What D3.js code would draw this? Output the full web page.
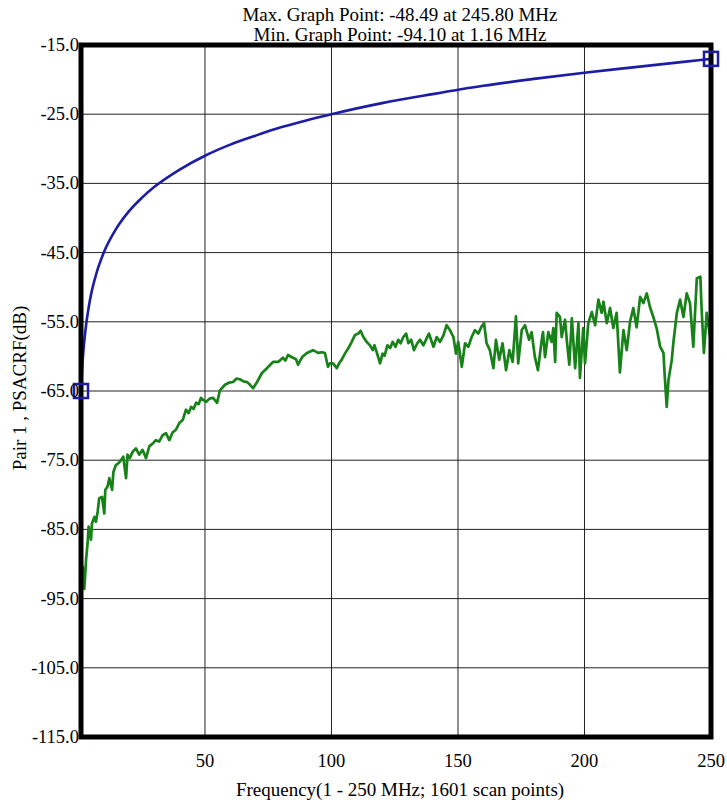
<!DOCTYPE html>
<html><head><meta charset="utf-8">
<script src="https://cdn.jsdelivr.net/npm/d3@7"></script>
<style>body{margin:0;background:#fff}svg{display:block}</style>
</head><body>
<svg id="c" width="727" height="808"></svg>
<script>
const titleLines = ["Max. Graph Point: -48.49 at 245.80 MHz", "Min. Graph Point: -94.10 at 1.16 MHz"];
const xTitle = "Frequency(1 - 250 MHz; 1601 scan points)";
const yTitle = "Pair 1 , PSACRF(dB)";
const xTicks = [50, 100, 150, 200, 250];
const yTicks = [-15, -25, -35, -45, -55, -65, -75, -85, -95, -105, -115];

const blueFreq = [1,1.5,2,3,4,5,7,10,15,20,25,30,40,50,60,70,80,90,100,120,140,160,180,200,220,240,250];
const blueDb = [-65,-61.5,-59,-55.5,-53,-51,-48.1,-45,-41.5,-39,-37.1,-35.5,-33,-31,-29.4,-28.1,-26.9,-25.9,-25,-23.4,-22.1,-20.9,-19.9,-19,-18.2,-17.4,-17.0];
const markerFreq = [1, 250];
const markerDb = [-65, -17.0];

const greenFreq = [1.0,1.16,1.67,2.3,3.0,3.6,4.0,4.95,5.35,6.3,6.9,7.6,8.2,9.3,10.2,10.6,11.5,12.2,13.3,13.8,14.8,15.9,16.8,17.7,18.8,19.4,20.3,21.4,22.7,24.0,25.3,26.7,28.0,29.3,30.6,
31.9,33.2,34.6,35.9,37.2,38.5,39.9,41.2,42.5,43.5,44.5,45.5,46.5,47.5,48.4,49.4,50.4,51.8,53.2,54.8,55.9,57.9,59.5,61.1,62.5,63.8,65.2,66.6,67.8,69.0,70.6,72.5,74.5,75.8,76.9,78.9,80.8,81.8,82.8,84.8,86.0,86.8,88.4,90.3,92.7,94.7,96.3,97.4,98.6,99.4,
100.6,102.1,103.0,104.0,105.3,106.7,108.0,109.3,110.6,111.5,112.6,113.9,115.2,116.3,117.0,117.8,119.2,120.2,121.0,122.1,123.2,124.2,125.3,126.4,127.3,128.4,129.5,130.4,131.5,132.6,133.9,135.0,136.3,137.6,138.5,140.3,141.6,142.9,144.2,145.5,146.8,148.2,149.2,150.1,151.5,152.8,154.1,155.4,156.7,158.0,159.3,160.3,161.3,162.6,164.0,165.0,166.3,167.6,169.0,170.3,171.6,172.9,173.8,175.2,176.5,178.1,
179.1,180.4,181.6,183.1,183.6,184.4,185.7,187.0,187.7,188.4,189.0,190.3,191.0,192.3,193.0,194.0,195.0,196.3,197.6,198.2,199.5,200.2,201.5,202.9,204.2,205.5,206.8,207.5,208.8,210.1,211.4,212.7,214.0,215.4,216.7,218.0,219.3,220.6,222.0,223.3,224.6,225.9,227.2,228.5,229.9,231.2,231.7,232.5,233.2,234.5,235.1,236.5,237.8,239.1,240.4,241.7,243.0,244.4,245.8,246.3,247.2,248.3,248.9,250.0];
const greenDb = [-87.0,-94.1,-90.4,-93.6,-89.4,-87.0,-84.6,-86.5,-84.1,-83.2,-83.9,-82.4,-80.5,-80.3,-82.7,-79.3,-78.8,-77.6,-79.3,-76.7,-75.7,-75.4,-75.0,-74.5,-77.6,-74.2,-74.7,-73.8,-73.3,-74.2,-73.5,-74.7,-73.0,-72.6,-72.1,
-72.3,-71.4,-71.1,-72.1,-71.0,-70.6,-69.6,-69.2,-67.7,-68.2,-67.3,-67.6,-66.7,-66.9,-66.0,-66.3,-66.6,-66.1,-66.0,-66.7,-64.9,-64.1,-63.8,-63.7,-63.2,-63.3,-63.6,-63.7,-64.1,-64.6,-63.7,-62.4,-61.7,-61.2,-60.8,-60.8,-60.2,-60.6,-59.8,-60.2,-60.4,-61.2,-60.1,-59.5,-59.1,-59.5,-59.4,-59.5,-61.5,-61.0,
-61.0,-61.7,-61.0,-60.5,-59.6,-58.8,-57.9,-56.9,-56.7,-56.3,-57.2,-57.9,-58.4,-59.1,-58.4,-59.3,-61.0,-59.6,-59.9,-58.4,-58.8,-57.9,-58.6,-57.6,-58.1,-57.2,-56.7,-58.1,-57.6,-59.1,-58.1,-57.6,-58.4,-57.4,-56.7,-58.6,-57.2,-57.9,-57.0,-55.5,-56.2,-57.2,-59.6,-57.9,-61.5,-58.1,-58.6,-57.2,-56.2,-56.7,-55.7,-55.2,-58.1,-59.1,-61.7,-57.6,-60.5,-58.1,-62.0,-59.1,-60.8,-54.2,-61.0,-56.2,-55.5,-57.6,
-56.5,-60.1,-62.0,-57.6,-56.5,-60.1,-56.5,-57.9,-55.9,-60.8,-53.7,-54.3,-57.2,-54.7,-57.6,-61.2,-54.5,-61.7,-55.2,-63.1,-55.9,-61.0,-55.2,-53.6,-55.5,-51.8,-53.7,-52.1,-55.2,-53.0,-55.9,-53.7,-62.3,-56.2,-59.1,-55.0,-53.0,-55.8,-51.4,-52.3,-50.9,-52.9,-54.3,-55.9,-58.6,-59.5,-62.7,-67.3,-63.4,-60.5,-58.1,-53.7,-51.8,-54.3,-50.9,-52.3,-58.6,-48.7,-48.49,-53.3,-59.5,-53.7,-55.2,-58.1];

const FONT = '"Liberation Serif", "Times New Roman", serif';
const svg = d3.select("#c");
const L = 81, R = 711, T = 45, B = 737;
const x = d3.scaleLinear().domain([1, 250]).range([L, R]);
const y = d3.scaleLinear().domain([-115, -15]).range([B, T]);
const fmtY = d => d3.format(".1f")(d).replace("\u2212", "-");

// grid
svg.append("g").selectAll("line").data(xTicks.filter(d => d < 250)).join("line")
  .attr("x1", d => x(d)).attr("x2", d => x(d)).attr("y1", T).attr("y2", B)
  .attr("stroke", "#222").attr("stroke-width", 1);
svg.append("g").selectAll("line").data(yTicks.filter(d => d > -115 && d < -15)).join("line")
  .attr("x1", L).attr("x2", R).attr("y1", d => y(d)).attr("y2", d => y(d))
  .attr("stroke", "#222").attr("stroke-width", 1);

// lines
const blue = blueFreq.map((f, i) => [f, blueDb[i]]);
const green = greenFreq.map((f, i) => [f, greenDb[i]]);
svg.append("path").datum(green)
  .attr("d", d3.line().x(d => x(d[0])).y(d => y(d[1])))
  .attr("fill", "none").attr("stroke", "#178217").attr("stroke-width", 2.7).attr("stroke-linejoin", "round");
svg.append("path").datum(blue)
  .attr("d", d3.line().curve(d3.curveMonotoneX).x(d => x(d[0])).y(d => y(d[1])))
  .attr("fill", "none").attr("stroke", "#1c1ca6").attr("stroke-width", 2.6);

// frame
svg.append("rect").attr("x", L).attr("y", T).attr("width", R - L).attr("height", B - T)
  .attr("fill", "none").attr("stroke", "#000").attr("stroke-width", 5);

// markers
svg.append("g").selectAll("rect").data(markerFreq.map((f, i) => [f, markerDb[i]])).join("rect")
  .attr("x", d => x(d[0]) - 7).attr("y", d => y(d[1]) - 7).attr("width", 14).attr("height", 14)
  .attr("fill", "none").attr("stroke", "#1c1ca6").attr("stroke-width", 2.5);

// tick labels
svg.append("g").selectAll("text").data(yTicks).join("text")
  .attr("x", L - 2).attr("y", d => y(d) + 6).attr("text-anchor", "end")
  .style("font-family", FONT).style("font-size", "18.5px").attr("fill", "#000")
  .text(fmtY);
svg.append("g").selectAll("text").data(xTicks).join("text")
  .attr("x", d => x(d)).attr("y", 767).attr("text-anchor", "middle")
  .style("font-family", FONT).style("font-size", "18.5px").attr("fill", "#000")
  .text(d => d);

// titles
svg.append("g").selectAll("text").data(titleLines).join("text")
  .attr("x", 400).attr("y", (d, i) => 20.5 + i * 20.5).attr("text-anchor", "middle")
  .style("font-family", FONT).style("font-size", "19px").attr("fill", "#000").text(d => d);
svg.append("text").attr("x", 400).attr("y", 796).attr("text-anchor", "middle")
  .style("font-family", FONT).style("font-size", "19px").attr("fill", "#000").text(xTitle);
svg.append("text").attr("transform", "translate(26,388) rotate(-90)").attr("text-anchor", "middle")
  .style("font-family", FONT).style("font-size", "19px").attr("fill", "#000").text(yTitle);
</script>
</body></html>
